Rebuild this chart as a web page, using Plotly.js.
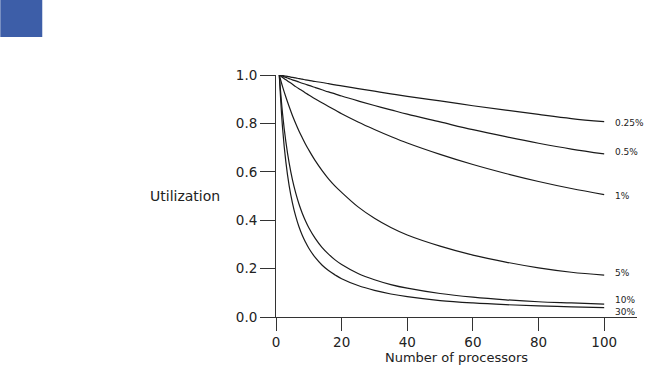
<!DOCTYPE html>
<html>
<head>
<meta charset="utf-8">
<script src="https://cdn.plot.ly/plotly-3.0.1.min.js"></script>
<style>html,body{margin:0;padding:0;background:#fff;}#chart{width:645px;height:372px;}</style>
</head>
<body>
<div id="chart"></div>
<script>
// Number of processors (x)
const processors = [1, 2, 3, 4, 5, 6, 7, 8, 9, 10, 12, 14, 16, 18, 20, 25, 30, 35, 40, 50, 60, 70, 80, 90, 100];
// Utilization per serial fraction
const util_025 = [1.0, 0.998, 0.995, 0.993, 0.99, 0.988, 0.985, 0.983, 0.98, 0.978, 0.973, 0.969, 0.964, 0.959, 0.955, 0.944, 0.933, 0.922, 0.912, 0.893, 0.873, 0.855, 0.837, 0.82, 0.807];
const util_05  = [1.0, 0.995, 0.99, 0.985, 0.98, 0.976, 0.971, 0.966, 0.962, 0.957, 0.948, 0.939, 0.93, 0.922, 0.913, 0.893, 0.874, 0.856, 0.838, 0.806, 0.774, 0.745, 0.718, 0.694, 0.674];
const util_1   = [1.0, 0.99, 0.98, 0.971, 0.962, 0.952, 0.943, 0.935, 0.926, 0.917, 0.901, 0.885, 0.87, 0.855, 0.84, 0.806, 0.775, 0.746, 0.719, 0.672, 0.63, 0.593, 0.56, 0.531, 0.506];
const util_5   = [1.0, 0.952, 0.909, 0.87, 0.833, 0.8, 0.769, 0.741, 0.714, 0.69, 0.645, 0.606, 0.571, 0.541, 0.515, 0.455, 0.408, 0.37, 0.339, 0.293, 0.256, 0.227, 0.203, 0.185, 0.173];
const util_10  = [1.0, 0.84, 0.725, 0.637, 0.568, 0.513, 0.467, 0.429, 0.397, 0.369, 0.324, 0.288, 0.26, 0.236, 0.217, 0.18, 0.154, 0.134, 0.119, 0.097, 0.082, 0.071, 0.063, 0.058, 0.053];
const util_30  = [1.0, 0.781, 0.641, 0.543, 0.472, 0.417, 0.373, 0.338, 0.309, 0.284, 0.245, 0.215, 0.192, 0.174, 0.158, 0.13, 0.11, 0.095, 0.084, 0.068, 0.058, 0.051, 0.046, 0.042, 0.039];
const seriesLabels = ["0.25%", "0.5%", "1%", "5%", "10%", "30%"];
const seriesValues = [util_025, util_05, util_1, util_5, util_10, util_30];
// label vertical positions (data units) at the right end
const labelY = [0.800, 0.683, 0.502, 0.180, 0.069, 0.021];
const xTicks = [0, 20, 40, 60, 80, 100];
const yTicks = [0.0, 0.2, 0.4, 0.6, 0.8, 1.0];

const FONT = "DejaVu Sans, Verdana, sans-serif";
const L = 276, R = 637.4, T = 75, B = 316.7, W = 645, H = 372;
const pw = R - L, ph = B - T;
const px = v => (v - L) / pw;
const py = v => (B - v) / ph;

const traces = seriesValues.map((vals, i) => ({
  x: processors, y: vals, type: "scatter", mode: "lines",
  line: {color: "#1a1a1a", width: 1.2, shape: "spline", smoothing: 1},
  name: seriesLabels[i], hoverinfo: "skip"
}));

const annotations = seriesLabels.map((t, i) => ({
  x: 100, y: labelY[i], xref: "x", yref: "y", text: t, showarrow: false,
  xanchor: "left", yanchor: "middle", xshift: 9,
  font: {family: FONT, size: 9, color: "#222"}
}));
annotations.push({
  x: px(222), y: 0.5, xref: "paper", yref: "paper", text: "Utilization",
  showarrow: false, xanchor: "right", yanchor: "middle",
  font: {family: FONT, size: 14, color: "#222"}
});

const layout = {
  width: W, height: H,
  margin: {l: L, r: W - R, t: T, b: H - B, pad: 0},
  paper_bgcolor: "#fff", plot_bgcolor: "#fff",
  showlegend: false,
  font: {family: FONT, size: 13, color: "#222"},
  xaxis: {
    range: [0, 110], tickvals: xTicks, ticktext: xTicks.map(String),
    ticks: "outside", ticklen: 13, tickwidth: 1, tickcolor: "#333",
    showline: true, linecolor: "#333", linewidth: 1,
    showgrid: false, zeroline: false,
    tickfont: {family: FONT, size: 13.5, color: "#222"},
    title: {text: "Number of processors", font: {family: FONT, size: 13, color: "#222"}, standoff: 2}
  },
  yaxis: {
    range: [0, 1], tickvals: yTicks, ticktext: yTicks.map(v => v.toFixed(1)),
    ticks: "outside", ticklen: 15, tickwidth: 1, tickcolor: "#333",
    showline: true, linecolor: "#333", linewidth: 1,
    showgrid: false, zeroline: false,
    tickfont: {family: FONT, size: 13.5, color: "#222"}
  },
  annotations: annotations,
  shapes: [{
    type: "rect", xref: "paper", yref: "paper",
    x0: px(0), x1: px(42), y0: py(0), y1: py(37),
    fillcolor: "#3d5ea8", line: {width: 0}, layer: "above"
  }]
};

Plotly.newPlot("chart", traces, layout, {staticPlot: true, displayModeBar: false});
</script>
</body>
</html>
